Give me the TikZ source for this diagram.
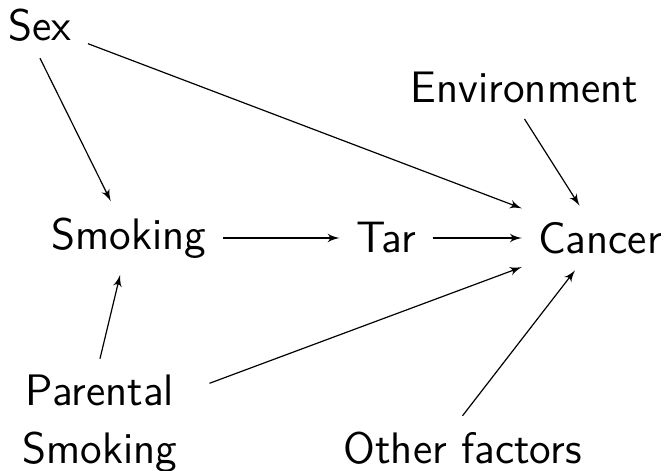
\documentclass[tikz,border=0pt]{standalone}
\usepackage{fontspec}
\usepackage{tikz}
\usetikzlibrary{arrows}

\begin{document}
\begin{tikzpicture}[>=latex',every node/.style={font=\sffamily\fontsize{14.7bp}{19.33bp}\selectfont,inner sep=5.3bp}]
	\useasboundingbox (0bp,0bp) rectangle (221.33bp,-156.67bp);

	\node (Sex)     at (13.33bp,-8.5bp)   {Sex};
	\node (Env)     at (174.83bp,-29bp)   {Environment};
	\node (Smoking) at (43bp,-79.33bp)    {Smoking};
	\node (Tar)     at (128.67bp,-79.33bp) {Tar};
	\node (Cancer)  at (200bp,-79.33bp)   {Cancer};
	\node (PSmoke)  at (33.33bp,-141.33bp) [text width=62bp,align=center] {Parental\\Smoking};
	\node (Other)   at (154.17bp,-149.5bp) {Other factors};

	\draw [->]  (Sex.south) to (Smoking);
	\draw [->]  (Sex) to (Cancer);
	\draw [->]  (Env.south) to (Cancer);
	\draw [->]  (Smoking) to (Tar);
	\draw [->]  (Tar) to (Cancer);
	\draw [->]  (PSmoke.north) to (Smoking);
	\draw [->]  (PSmoke) to (Cancer);
	\draw [->]  (Other.north) to (Cancer);
\end{tikzpicture}
\end{document}
